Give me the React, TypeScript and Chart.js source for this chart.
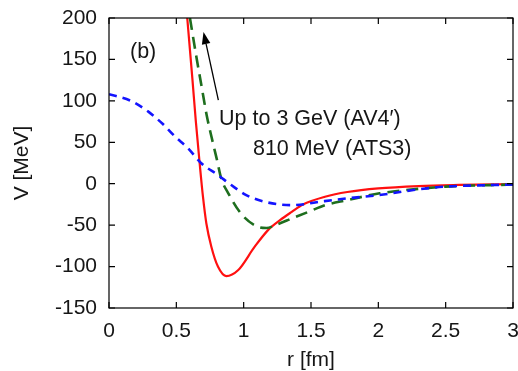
import React, { useEffect, useRef } from "react";
import { Chart, registerables } from "chart.js";

Chart.register(...registerables);

// ---- data (r in fm, V in MeV) ----
const rRed = [0.581, 0.62, 0.645, 0.673, 0.698, 0.723, 0.76, 0.809, 0.871, 0.958, 1.082, 1.181, 1.27, 1.357, 1.44, 1.604, 1.77, 2.0, 2.3, 2.6, 3.0];
const vRed = [200, 125, 75, 25, -16, -48, -76, -100, -111.5, -104.5, -76, -56, -44, -34, -25, -15.7, -10, -5.6, -2.8, -1.5, -0.5];

const rGreen = [0.601, 0.65, 0.688, 0.725, 0.772, 0.8, 0.834, 0.886, 0.985, 1.106, 1.17, 1.25, 1.357, 1.48, 1.604, 1.765, 2.01, 2.26, 2.5, 3.0];
const vGreen = [200, 152, 117, 83, 49, 30, 6, -11.6, -37, -52, -53.5, -49, -42, -34, -26, -20, -11.6, -6.8, -3.5, -1];

const rBlue = [0, 0.156, 0.292, 0.4, 0.49, 0.587, 0.685, 0.809, 0.908, 1.019, 1.156, 1.357, 1.6, 1.765, 2.01, 2.26, 2.5, 2.75, 3.0];
const vBlue = [108, 100.5, 87, 72, 57, 42.8, 24.7, 10.5, -1.6, -13.7, -21.8, -25.8, -21, -17.7, -13.7, -7.6, -3.5, -2, -1];

const xTickValues = [0, 0.5, 1, 1.5, 2, 2.5, 3];
const yTickValues = [-150, -100, -50, 0, 50, 100, 150, 200];

const panelLabel = { text: "(b)", r: 0.156, v: 159 };
const noteLines = [
  { text: "Up to 3 GeV (AV4\u2032)", r: 0.817, v: 78 },
  { text: "810 MeV (ATS3)", r: 1.069, v: 42 },
];
const arrowTail = { r: 0.812, v: 101 };
const arrowTip = { r: 0.702, v: 183 };

const FONT_FAMILY = '"Liberation Sans", Arial, Helvetica, sans-serif';
const FONT_SIZE = 21;
const NOTE_SIZE = 21.5;
const TEXT_COLOR = "#161616";

const toPoints = (xs: number[], ys: number[]) => xs.map((x, i) => ({ x, y: ys[i] }));

const framePlugin = {
  id: "gnuFrame",
  afterDraw(chart: any) {
    const { ctx, chartArea: a, scales } = chart;
    const xs = scales.x;
    const ys = scales.y;
    ctx.save();
    ctx.strokeStyle = "#000";
    ctx.lineWidth = 1.2;
    ctx.strokeRect(a.left, a.top, a.right - a.left, a.bottom - a.top);
    const tl = 6;
    ctx.beginPath();
    xTickValues.forEach((v) => {
      const px = xs.getPixelForValue(v);
      ctx.moveTo(px, a.bottom);
      ctx.lineTo(px, a.bottom - tl);
      ctx.moveTo(px, a.top);
      ctx.lineTo(px, a.top + tl);
    });
    yTickValues.forEach((v) => {
      const py = ys.getPixelForValue(v);
      ctx.moveTo(a.left, py);
      ctx.lineTo(a.left + tl, py);
      ctx.moveTo(a.right, py);
      ctx.lineTo(a.right - tl, py);
    });
    ctx.stroke();

    // arrow
    const x0 = xs.getPixelForValue(arrowTail.r);
    const y0 = ys.getPixelForValue(arrowTail.v);
    const x1 = xs.getPixelForValue(arrowTip.r);
    const y1 = ys.getPixelForValue(arrowTip.v);
    const ang = Math.atan2(y1 - y0, x1 - x0);
    const hl = 12;
    const hw = 4.3;
    const bx = x1 - hl * Math.cos(ang);
    const by = y1 - hl * Math.sin(ang);
    ctx.lineWidth = 1.3;
    ctx.beginPath();
    ctx.moveTo(x0, y0);
    ctx.lineTo(bx, by);
    ctx.stroke();
    ctx.fillStyle = "#000";
    ctx.beginPath();
    ctx.moveTo(x1, y1);
    ctx.lineTo(bx + hw * Math.sin(ang), by - hw * Math.cos(ang));
    ctx.lineTo(bx - hw * Math.sin(ang), by + hw * Math.cos(ang));
    ctx.closePath();
    ctx.fill();

    // texts
    ctx.fillStyle = TEXT_COLOR;
    ctx.font = `${NOTE_SIZE}px ${FONT_FAMILY}`;
    ctx.textAlign = "left";
    ctx.textBaseline = "middle";
    ctx.fillText(panelLabel.text, xs.getPixelForValue(panelLabel.r), ys.getPixelForValue(panelLabel.v));
    noteLines.forEach((n) => {
      ctx.fillText(n.text, xs.getPixelForValue(n.r), ys.getPixelForValue(n.v));
    });
    ctx.restore();
  },
};

const zeroPadding = (s: any) => {
  s.paddingLeft = 0;
  s.paddingRight = 0;
  s.paddingTop = 0;
  s.paddingBottom = 0;
};

export default function App() {
  const ref = useRef<HTMLCanvasElement>(null);
  useEffect(() => {
    const font = { family: FONT_FAMILY, size: FONT_SIZE };
    const chart = new Chart(ref.current as HTMLCanvasElement, {
      type: "line",
      data: {
        datasets: [
          {
            label: "blue",
            data: toPoints(rBlue, vBlue),
            borderColor: "#1414ff",
            borderWidth: 2.6,
            borderDash: [8, 6],
            pointRadius: 0,
            cubicInterpolationMode: "monotone",
            fill: false,
          },
          {
            label: "green",
            data: toPoints(rGreen, vGreen),
            borderColor: "#1e6e1e",
            borderWidth: 2.6,
            borderDash: [12, 7],
            pointRadius: 0,
            cubicInterpolationMode: "monotone",
            fill: false,
          },
          {
            label: "red",
            data: toPoints(rRed, vRed),
            borderColor: "#ff1010",
            borderWidth: 2.2,
            pointRadius: 0,
            cubicInterpolationMode: "monotone",
            fill: false,
          },
        ],
      },
      options: {
        animation: false,
        responsive: true,
        maintainAspectRatio: false,
        layout: { padding: { top: 18, right: 5, left: 0, bottom: 0 } },
        plugins: { legend: { display: false }, tooltip: { enabled: false } },
        scales: {
          x: {
            type: "linear",
            min: 0,
            max: 3,
            grid: { display: false, drawTicks: false },
            border: { display: false },
            ticks: {
              stepSize: 0.5,
              font,
              color: TEXT_COLOR,
              padding: 11,
              maxRotation: 0,
              autoSkip: false,
              callback: (v: any) => String(v),
            },
            title: { display: true, text: "r [fm]", font, color: TEXT_COLOR, padding: { top: 0, bottom: -2 } },
            afterFit: (s: any) => {
              s.height = 63;
              zeroPadding(s);
            },
          },
          y: {
            type: "linear",
            min: -150,
            max: 200,
            grid: { display: false, drawTicks: false },
            border: { display: false },
            ticks: { stepSize: 50, font, color: TEXT_COLOR, padding: 12, callback: (v: any) => String(v) },
            title: { display: true, text: "V [MeV]", font, color: TEXT_COLOR, padding: { top: 10, bottom: 0 } },
            afterFit: (s: any) => {
              s.width = 109;
              zeroPadding(s);
            },
          },
        },
      },
      plugins: [framePlugin],
    } as any);
    return () => chart.destroy();
  }, []);
  return (
    <div style={{ position: "fixed", left: 0, top: 0, width: 518, height: 371, background: "#fff" }}>
      <canvas ref={ref} />
    </div>
  );
}
